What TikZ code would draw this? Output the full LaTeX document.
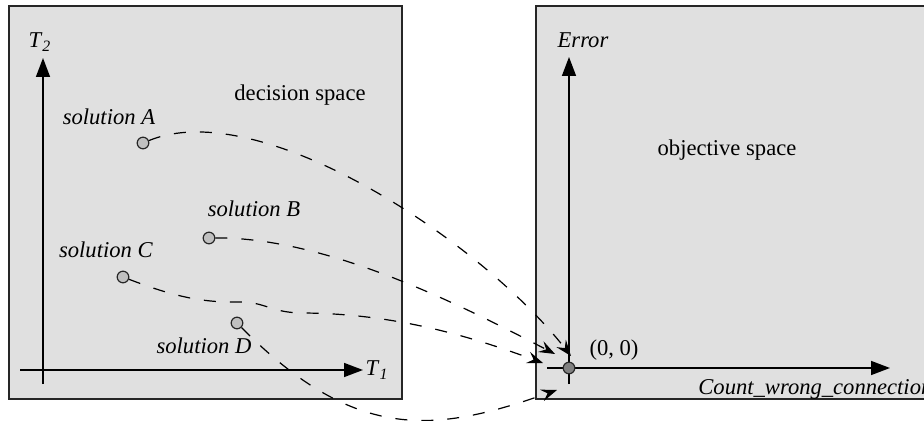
\documentclass[tikz,border=0pt]{standalone}
\usepackage{fontspec}
\setmainfont{Liberation Serif}
\usetikzlibrary{arrows.meta}
\definecolor{paneFill}{HTML}{E0E0E0}
\definecolor{dotFill}{HTML}{C0C0C0}
\definecolor{zeroFill}{HTML}{808080}
\newcommand{\osAxisName}[2]{\textit{#1}\textsubscript{\textit{#2}}}

\begin{document}
\begin{tikzpicture}[x=0.5pt,y=-0.5pt,
  pane/.style={fill=paneFill, draw=black!85, line width=0.7pt},
  axis/.style={line width=0.75pt, -{Triangle[length=9.5pt,width=7pt]}},
  link/.style={line width=0.6pt, dash pattern=on 6pt off 7pt, -{Stealth[length=8pt,width=6pt,inset=3pt]}},
  soln/.style={circle, draw=black!85, fill=dotFill, line width=0.6pt, minimum size=5.8pt, inner sep=0pt},
  lbl/.style={inner sep=0pt, font=\fontsize{11.3}{13}\selectfont}]
\useasboundingbox (0,0) rectangle (924,421);
\draw[pane] (9,6) rectangle (402,399);
\fill[paneFill] (536,6) rectangle (924,399);
\draw[line width=0.7pt, draw=black!85] (924,6) -- (536,6) -- (536,399) -- (924,399);
\draw[axis] (43,384) -- (43,58);
\draw[axis] (20,370) -- (363,370);
\draw[axis] (569,384) -- (569,57);
\draw[axis] (547,368) -- (890,368);
\node[soln] (solA) at (143,143) {};
\node[soln] (solB) at (209,238) {};
\node[soln] (solC) at (123,277) {};
\node[soln] (solD) at (237,323) {};
\node[soln, fill=zeroFill] (zero) at (569,368) {};
\coordinate (tipA) at (571,356);
\coordinate (tipB) at (555,354);
\coordinate (tipC) at (543,363);
\coordinate (tipD) at (557,390);
\draw[link] (solA) .. controls (260,95) and (480,240) .. (tipA);
\draw[link] (solB) .. controls (330,237) and (470,310) .. (tipB);
\draw[link] (solC) .. controls (170,295) and (200,303) .. (240,302) .. controls (265,302) and (270,312) .. (300,313) .. controls (400,313) and (480,340) .. (tipC);
\draw[link] (solD) .. controls (356,443) and (435,433) .. (tipD);
\node[lbl] (nT2) at (40,42) {\osAxisName{T}{2}};
\node[lbl] (nT1) at (377,370) {\osAxisName{T}{1}};
\node[lbl] (nDec) at (300,95) {decision space};
\node[lbl] (nA) at (109,117) {\textit{solution A}};
\node[lbl] (nB) at (254,209) {\textit{solution B}};
\node[lbl] (nC) at (106,250) {\textit{solution C}};
\node[lbl] (nD) at (204,346) {\textit{solution D}};
\node[lbl] (nErr) at (583,40) {\textit{Error}};
\node[lbl] (nObj) at (727,150) {objective space};
\node[lbl] (nZero) at (614,350) {(0, 0)};
\node[lbl, anchor=west] (nCount) at (698,389) {\textit{Count\_wrong\_connection}};
\end{tikzpicture}
\end{document}
